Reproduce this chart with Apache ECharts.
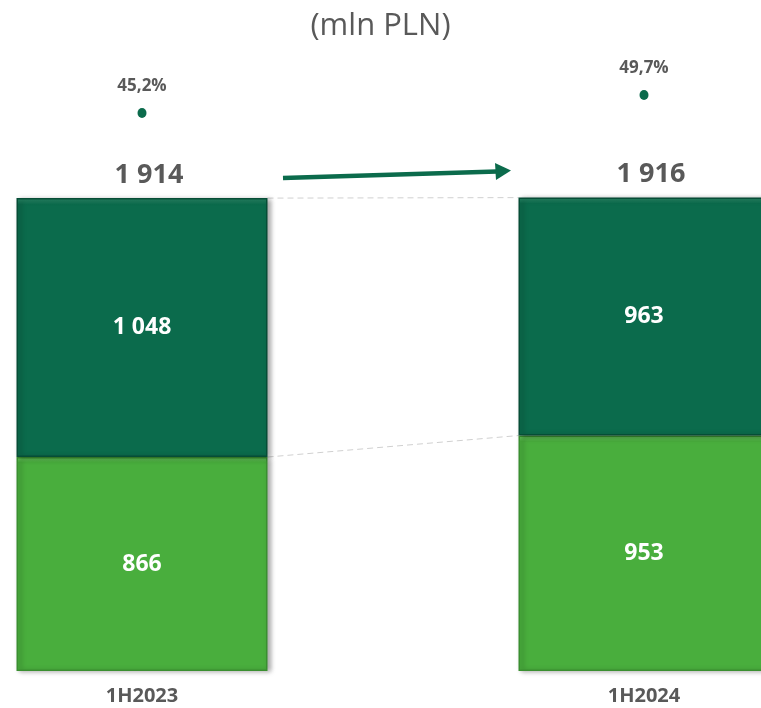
<!DOCTYPE html>
<html lang="en">
<head>
  <meta charset="UTF-8" />
  <title>mln PLN</title>
  <script src="https://cdn.jsdelivr.net/npm/echarts@6.0.0/dist/echarts.min.js"></script>
</head>
<body style="margin:0;background:#fff;">
  <div id="main" style="width:761px;height:708px;"></div>
  <script>
    const periods = ["1H2023", "1H2024"];
    const lowerValues = [866, 953];
    const upperValues = [1048, 963];
    const totals = [1914, 1916];
    const shares = [45.2, 49.7];

    const dark = "#0b6b4c";
    const light = "#49ae3d";
    const grey = "#595959";
    const barW = 251;

    const fmt = (n) => String(n).replace(/\B(?=(\d{3})+(?!\d))/g, " ");

    const chart = echarts.init(document.getElementById("main"));

    // lekki efekt fazy na górnej krawędzi
    const barStyle = (top, c, edge) => ({
      color: {
        type: "linear", x: 0, y: 0, x2: 0, y2: 1,
        colorStops: [
          { offset: 0, color: top },
          { offset: 0.025, color: c },
          { offset: 1, color: c },
        ],
      },
      borderColor: edge,
      borderWidth: 1.5,
      shadowColor: "rgba(0,0,0,0.35)",
      shadowBlur: 5,
      shadowOffsetX: 3,
      shadowOffsetY: 1,
    });

    const insideLabel = {
      show: true,
      position: "inside",
      formatter: (p) => fmt(p.value),
      fontFamily: "Open Sans",
      fontWeight: "bold",
      fontSize: 23,
      letterSpacing: -0.5,
      color: "#fff",
    };

    chart.setOption({
      animation: false,
      title: {
        text: "(mln PLN)",
        left: "center",
        top: 6,
        textStyle: { fontFamily: "Open Sans", fontSize: 31, fontWeight: "normal", color: grey },
      },
      grid: { left: -109, right: -134, top: 60, bottom: 37, outerBoundsMode: "none", containLabel: false },
      xAxis: {
        type: "category",
        data: periods,
        axisLine: { show: false },
        axisTick: { show: false },
        axisLabel: {
          margin: 15,
          fontFamily: "Open Sans",
          fontWeight: "bold",
          fontSize: 20,
          letterSpacing: -0.5,
          color: grey,
        },
      },
      yAxis: [
        { type: "value", min: 0, max: 2473, show: false },
        { type: "value", min: -94.3, max: 58.45, show: false },
      ],
      series: [
        {
          type: "bar",
          stack: "t",
          barWidth: barW,
          data: lowerValues,
          itemStyle: barStyle("#6fd463", light, "#3a8f30"),
          label: insideLabel,
        },
        {
          type: "bar",
          stack: "t",
          barWidth: barW,
          data: upperValues,
          itemStyle: barStyle("#2a8a68", dark, "#064d36"),
          label: insideLabel,
        },
        {
          // sumy nad słupkami
          type: "line",
          data: totals,
          symbol: "circle",
          symbolSize: 1,
          itemStyle: { color: "rgba(0,0,0,0)" },
          lineStyle: { opacity: 0 },
          label: {
            show: true,
            position: "top",
            distance: 9,
            offset: [7, 0],
            formatter: (p) => fmt(p.value),
            fontFamily: "Open Sans",
            fontWeight: "bold",
            fontSize: 27,
            letterSpacing: -1.5,
            color: grey,
          },
        },
        {
          type: "line",
          yAxisIndex: 1,
          data: shares,
          symbol: "circle",
          symbolSize: [9, 10],
          lineStyle: { opacity: 0 },
          itemStyle: { color: dark },
          label: {
            show: true,
            position: "top",
            distance: 13,
            formatter: (p) => p.value.toFixed(1).replace(".", ",") + "%",
            fontFamily: "Open Sans",
            fontWeight: "bold",
            fontSize: 17,
            color: grey,
          },
        },
      ],
    });

    // linie przerywane między słupkami
    const edge = (i, v, side) => {
      const pt = chart.convertToPixel({ xAxisIndex: 0, yAxisIndex: 0 }, [i, v]);
      return [pt[0] + side * barW / 2, pt[1]];
    };
    const dash = { stroke: "#d0d0d0", lineWidth: 1, lineDash: [6, 4] };
    chart.setOption({
      graphic: [
        {
          type: "polyline",
          shape: { points: [edge(0, totals[0], 1), edge(1, totals[1], -1)] },
          style: dash,
          silent: true,
        },
        {
          type: "polyline",
          shape: { points: [edge(0, lowerValues[0], 1), edge(1, lowerValues[1], -1)] },
          style: dash,
          silent: true,
        },
        {
          type: "polyline",
          shape: { points: [[283, 178], [497, 171.5]] },
          style: { stroke: dark, lineWidth: 4.5 },
          silent: true,
        },
        {
          type: "polygon",
          shape: { points: [[495, 163], [511, 170.5], [496, 180]] },
          style: { fill: dark },
          silent: true,
        },
      ],
    });
  </script>
</body>
</html>
